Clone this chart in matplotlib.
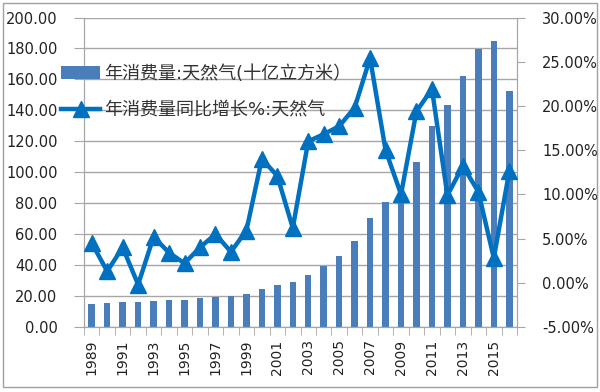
import numpy as np
import matplotlib
matplotlib.use("Agg")
from matplotlib import pyplot as plt
from matplotlib.patches import Rectangle
from matplotlib.ticker import FixedLocator, FuncFormatter

plt.rcParams['font.family'] = ['DejaVu Sans', 'Noto Sans CJK SC']

years = list(range(1989, 2017))
consumption = [15.0, 15.3, 16.0, 15.9, 16.8, 17.4, 17.7, 18.5, 19.5, 20.3,
               21.5, 24.5, 27.4, 29.2, 33.6, 39.6, 46.2, 55.8, 70.3, 81.0,
               88.8, 106.5, 130.2, 143.2, 162.5, 179.8, 185.0, 152.5]
growth = [4.5, 1.3, 4.0, -0.2, 5.2, 3.4, 2.2, 4.0, 5.5, 3.5,
          5.9, 14.0, 12.1, 6.2, 16.0, 16.8, 17.7, 19.8, 25.4, 15.0,
          10.0, 19.4, 21.9, 9.9, 13.2, 10.3, 2.8, 12.6]

bar_label = '年消费量:天然气(十亿立方米）'
line_label = '年消费量同比增长%:天然气'

bar_color = '#4a7ebb'
line_color = '#0070c0'
grid_color = '#a6a6a6'
text_color = '#222222'

fig = plt.figure(figsize=(6, 3.92), dpi=100)
ax = fig.add_axes([84 / 600, 1 - 327 / 392, 433 / 600, 309.5 / 392])
ax2 = ax.twinx()

x = np.arange(len(years))
bars = ax.bar(x, consumption, width=0.42, color=bar_color, zorder=2)
ax.set_xlim(-0.5, len(years) - 0.5)
ax.set_ylim(0, 200)
ax.set_yticks(np.arange(0, 201, 20))
ax.yaxis.set_major_formatter(FuncFormatter(lambda v, p: f'{v:.2f}'))
ax.grid(axis='y', color=grid_color, linewidth=1, zorder=0)
ax.set_axisbelow(True)

# category labels every second year, ticks on category boundaries
ax.set_xticks(x[::2])
ax.set_xticklabels([str(y) for y in years[::2]], rotation=90)
ax.xaxis.set_minor_locator(FixedLocator(np.arange(-0.5, len(years), 1)))
ax.tick_params(axis='x', which='major', length=0, pad=9, labelsize=10, labelcolor=text_color)
ax.tick_params(axis='x', which='minor', length=6, color=grid_color)
ax.tick_params(axis='y', length=7, color=grid_color, pad=12, labelsize=10.5, labelcolor=text_color)

line, = ax2.plot(x, growth, color=line_color, linewidth=3.2, marker='^',
                 markersize=11, zorder=3)
ax2.set_ylim(-5, 30)
ax2.set_yticks(np.arange(-5, 31, 5))
ax2.yaxis.set_major_formatter(FuncFormatter(lambda v, p: f'{v:.2f}%'))
ax2.tick_params(axis='y', length=6, color=grid_color, pad=12, labelsize=10.5, labelcolor=text_color)

for a in (ax, ax2):
    a.spines['top'].set_visible(False)
    for s in ('left', 'right', 'bottom'):
        a.spines[s].set_color(grid_color)

leg = ax2.legend([bars, line], [bar_label, line_label], loc='upper left',
                 bbox_to_anchor=(-0.09, 0.90), frameon=False, fontsize=13,
                 handlelength=2.15, handletextpad=0.2, labelspacing=1.02,
                 labelcolor='#333333')

fig.patches.append(Rectangle((3 / 600, 5 / 392), 594 / 600, 384 / 392,
                             transform=fig.transFigure, fill=False,
                             edgecolor='#a0a0a0', linewidth=1))

fig.savefig('out.png', dpi=100)
